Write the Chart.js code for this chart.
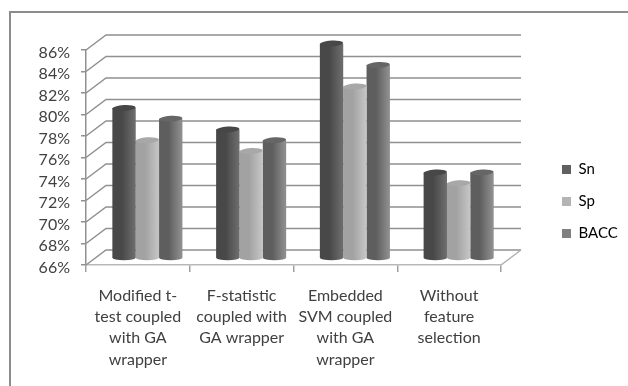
<!DOCTYPE html>
<html>
<head>
<meta charset="utf-8">
<style>
  html, body { margin: 0; background: #fff; overflow: hidden; }
  #wrap { position: relative; width: 628px; height: 386px; }
  #frame { position: absolute; left: 9px; top: 11px; right: -4px; bottom: -4px; border: 2px solid #8c8c8c; }
  canvas { position: absolute; left: 0; top: 0; filter: blur(0.4px); }
</style>
<script src="https://cdn.jsdelivr.net/npm/chart.js@4/dist/chart.umd.min.js"></script>
</head>
<body>
<div id="wrap">
  <div id="frame"></div>
  <canvas id="chart" width="628" height="386"></canvas>
</div>
<script>
const categories = [
  ["Modified t-", "test coupled", "with GA", "wrapper"],
  ["F-statistic", "coupled with", "GA wrapper"],
  ["Embedded", "SVM coupled", "with GA", "wrapper"],
  ["Without", "feature", "selection"],
];
const seriesNames = ["Sn", "Sp", "BACC"];
const snValues = [80, 78, 86, 74];
const spValues = [77, 76, 82, 73];
const baccValues = [79, 77, 84, 74];

const legendColors = ["#606060", "#b4b4b4", "#808080"];
const edgeColors = ["#484848", "#a2a2a2", "#5e5e5e"];
const midColors = ["#6c6c6c", "#c4c4c4", "#8e8e8e"];
const capColors = ["#474747", "#a8a8a8", "#666666"];
const groupShare = 0.675;
const depth = { x: 20, y: -15 };
const barShift = { x: 9.5, y: -6.5 };
const fontName = "Lato, 'Open Sans', sans-serif";

// cylinder shading across the width of each bar
function cylinderFill(c) {
  const x = c.chart.scales.x;
  if (!x || c.dataIndex === undefined) return legendColors[c.datasetIndex];
  const w = ((x.right - x.left) / categories.length) * groupShare / seriesNames.length;
  const mid = x.getPixelForValue(c.dataIndex) + (c.datasetIndex - 1) * w + barShift.x;
  const g = c.chart.ctx.createLinearGradient(mid - w / 2, 0, mid + w / 2, 0);
  g.addColorStop(0, edgeColors[c.datasetIndex]);
  g.addColorStop(0.55, midColors[c.datasetIndex]);
  g.addColorStop(1, edgeColors[c.datasetIndex]);
  return g;
}

const walls = {
  id: "walls",
  beforeDatasetsDraw(chart) {
    const { ctx, scales: { x, y } } = chart;
    ctx.save();
    ctx.strokeStyle = "#909090";
    ctx.lineWidth = 1.5;
    y.ticks.forEach((t) => {
      const py = y.getPixelForValue(t.value);
      ctx.beginPath();
      ctx.moveTo(x.left, py);
      ctx.lineTo(x.left + depth.x, py + depth.y);
      ctx.lineTo(x.right + depth.x, py + depth.y);
      ctx.stroke();
    });
    // floor, right side
    ctx.strokeStyle = "#b0b0b0";
    ctx.beginPath();
    ctx.moveTo(x.right, y.bottom);
    ctx.lineTo(x.right + depth.x, y.bottom + depth.y);
    ctx.stroke();
    ctx.restore();

    ctx.save();
    ctx.translate(barShift.x, barShift.y);
  },
  afterDatasetsDraw(chart) {
    const { ctx } = chart;
    chart.data.datasets.forEach((ds, i) => {
      chart.getDatasetMeta(i).data.forEach((bar) => {
        const rx = bar.width / 2;
        ctx.fillStyle = bar.options.backgroundColor;
        ctx.beginPath();
        ctx.ellipse(bar.x, bar.base, rx, 2.5, 0, 0, Math.PI * 2);
        ctx.fill();
        ctx.fillStyle = capColors[i];
        ctx.beginPath();
        ctx.ellipse(bar.x, bar.y, rx, 3, -0.06, 0, Math.PI * 2);
        ctx.fill();
      });
    });
    ctx.restore();
  },
  afterLayout(chart) {
    // legend sits in the right margin
    const l = chart.legend;
    l.left = 545;
    l.right = 628;
    l.top = 145;
    l.bottom = 300;
    l.width = 83;
    l.height = 155;
  },
};

new Chart(document.getElementById("chart"), {
  type: "bar",
  data: {
    labels: categories,
    datasets: [snValues, spValues, baccValues].map((values, i) => ({
      label: seriesNames[i],
      data: values,
      base: 66,
      backgroundColor: cylinderFill,
      categoryPercentage: groupShare,
      barPercentage: 1,
    })),
  },
  options: {
    responsive: false,
    animation: false,
    layout: { padding: { top: 50, right: 127, left: 0, bottom: 0 } },
    plugins: {
      tooltip: { enabled: false },
      legend: {
        position: "chartArea",
        align: "start",
        labels: {
          boxWidth: 9,
          boxHeight: 9,
          padding: 17,
          color: "#404040",
          font: { family: fontName, size: 15 },
          generateLabels: () => seriesNames.map((name, i) => ({
            text: name,
            fillStyle: legendColors[i],
            strokeStyle: legendColors[i],
            lineWidth: 0,
            datasetIndex: i,
          })),
        },
      },
    },
    scales: {
      x: {
        afterFit: (s) => { s.height = 121; },
        grid: { drawOnChartArea: false, color: "#a0a0a0", lineWidth: 1.5, tickLength: 7 },
        border: { color: "#b8b8b8", width: 1.5 },
        ticks: {
          color: "#404040",
          padding: 13,
          maxRotation: 0,
          autoSkip: false,
          font: { family: fontName, size: 16, lineHeight: 1.33 },
        },
      },
      y: {
        min: 66,
        max: 86,
        afterFit: (s) => { s.width = 86; },
        grid: { drawOnChartArea: false, color: "#909090", lineWidth: 1.5, tickLength: 5 },
        border: { color: "#909090", width: 1.5 },
        ticks: {
          stepSize: 2,
          autoSkip: false,
          color: "#404040",
          padding: 11,
          // empty first line nudges the label a little below its tick
          callback: (v) => ["", v + "%"],
          font: { family: fontName, size: 16, lineHeight: 0.3 },
        },
      },
    },
  },
  plugins: [walls],
});
</script>
</body>
</html>
